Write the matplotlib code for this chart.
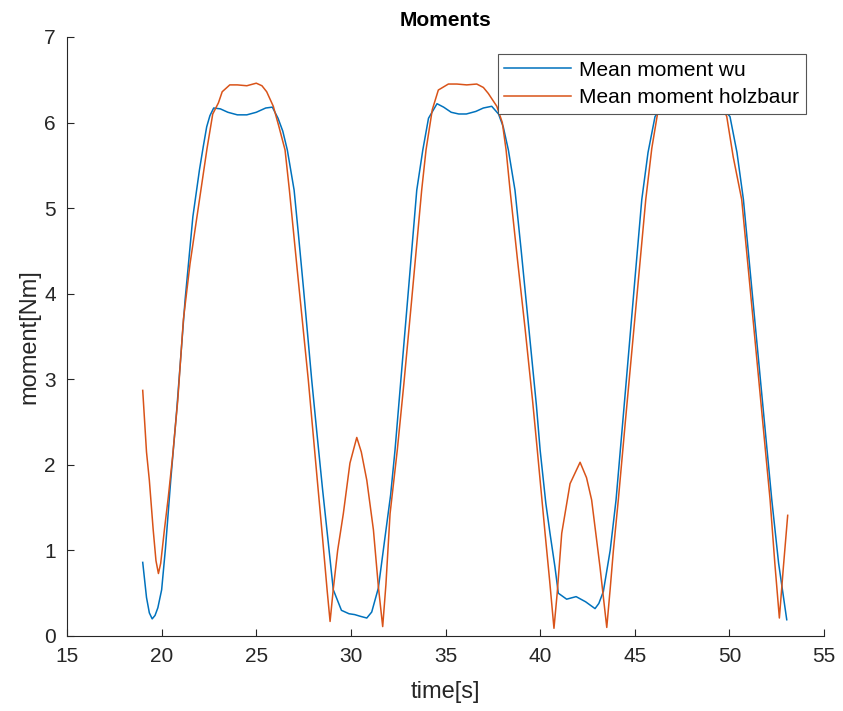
import numpy as np
import matplotlib.pyplot as plt

plt.rcParams['font.family'] = ['Liberation Sans', 'DejaVu Sans']

# mean moment, wu model
t_wu = [19.0, 19.2, 19.35, 19.5, 19.65, 19.8, 20.0, 20.2, 20.48, 20.8,
        21.24, 21.65, 22.0, 22.2, 22.38, 22.55, 22.75, 23.1, 23.5, 24.0,
        24.5, 25.0, 25.5, 25.85, 26.15, 26.4, 26.64, 27.0, 27.22, 27.5,
        27.93, 28.2, 28.5, 28.8, 29.07, 29.5, 29.9, 30.2, 30.5, 30.84,
        31.1, 31.45, 31.8, 32.1, 32.33, 32.7, 33.1, 33.48, 33.8, 34.1,
        34.55, 34.9, 35.3, 35.7, 36.1, 36.6, 37.0, 37.44, 37.8, 38.05,
        38.32, 38.67, 39.0, 39.4, 39.8, 40.0, 40.3, 40.52, 40.78, 40.96,
        41.4, 41.9, 42.4, 42.9, 43.1, 43.34, 43.7, 44.01, 44.5, 45.0,
        45.37, 45.7, 46.07, 46.5, 47.0, 47.5, 48.0, 48.5, 49.0, 49.5,
        50.03, 50.4, 50.74, 51.2, 51.7, 52.24, 52.6, 53.03]
m_wu = [0.86, 0.45, 0.27, 0.20, 0.24, 0.33, 0.54, 1.02, 1.82, 2.65,
        3.93, 4.90, 5.45, 5.72, 5.95, 6.08, 6.17, 6.16, 6.12, 6.09,
        6.09, 6.12, 6.17, 6.18, 6.05, 5.90, 5.68, 5.21, 4.71, 4.05,
        2.99, 2.38, 1.72, 1.10, 0.54, 0.30, 0.26, 0.25, 0.23, 0.21,
        0.28, 0.56, 1.15, 1.65, 2.17, 3.15, 4.20, 5.21, 5.68, 6.05,
        6.22, 6.18, 6.12, 6.10, 6.10, 6.13, 6.17, 6.19, 6.10, 5.95,
        5.68, 5.21, 4.50, 3.60, 2.70, 2.17, 1.55, 1.20, 0.81, 0.50,
        0.43, 0.46, 0.40, 0.32, 0.38, 0.52, 1.00, 1.59, 2.85, 4.15,
        5.10, 5.65, 6.07, 6.20, 6.18, 6.12, 6.10, 6.12, 6.17, 6.20,
        6.07, 5.65, 5.10, 4.02, 2.85, 1.59, 0.85, 0.19]

# mean moment, holzbaur model
t_hb = [19.0, 19.2, 19.35, 19.55, 19.7, 19.83, 19.95, 20.15, 20.35, 20.58,
        20.85, 21.15, 21.5, 21.8, 22.1, 22.4, 22.7, 23.0, 23.2, 23.6,
        24.0, 24.5, 25.0, 25.3, 25.55, 25.9, 26.2, 26.52, 26.75, 27.2,
        27.75, 28.2, 28.5, 28.75, 28.9, 29.07, 29.3, 29.6, 29.95, 30.31,
        30.55, 30.84, 31.19, 31.45, 31.68, 31.85, 32.07, 32.45, 32.8, 33.2,
        33.74, 33.97, 34.3, 34.62, 35.15, 35.6, 36.12, 36.65, 37.0, 37.26,
        37.71, 38.0, 38.2, 38.41, 38.8, 39.2, 39.6, 39.85, 40.26, 40.5,
        40.73, 40.9, 41.14, 41.58, 42.11, 42.45, 42.72, 43.16, 43.52, 43.7,
        43.87, 44.13, 44.5, 45.0, 45.58, 45.9, 46.2, 46.6, 47.0, 47.5,
        48.0, 48.5, 49.0, 49.4, 49.86, 50.2, 50.65, 51.1, 51.6, 52.15,
        52.4, 52.64, 52.85, 53.08]
m_hb = [2.87, 2.15, 1.82, 1.25, 0.88, 0.73, 0.85, 1.25, 1.62, 2.10,
        2.75, 3.70, 4.35, 4.80, 5.25, 5.70, 6.10, 6.23, 6.36, 6.44,
        6.44, 6.43, 6.46, 6.43, 6.36, 6.19, 5.95, 5.68, 5.21, 4.20,
        2.99, 1.88, 1.15, 0.52, 0.17, 0.55, 1.00, 1.43, 2.02, 2.32,
        2.15, 1.82, 1.24, 0.58, 0.11, 0.60, 1.43, 2.17, 2.95, 3.90,
        5.21, 5.68, 6.15, 6.38, 6.45, 6.45, 6.44, 6.45, 6.41, 6.34,
        6.19, 6.00, 5.68, 5.21, 4.40, 3.60, 2.75, 2.17, 1.20, 0.65,
        0.09, 0.50, 1.20, 1.78, 2.03, 1.85, 1.59, 0.81, 0.10, 0.55,
        1.00, 1.59, 2.50, 3.70, 5.10, 5.70, 6.10, 6.35, 6.44, 6.45,
        6.43, 6.45, 6.42, 6.30, 6.07, 5.60, 5.10, 4.05, 2.88, 1.59,
        0.85, 0.21, 0.80, 1.41]

fig = plt.figure(figsize=(8.43, 7.11), dpi=100)
ax = fig.add_axes([0.0795, 0.1055, 0.898, 0.8425])

ax.plot(t_wu, m_wu, color='#0072BD', lw=1.1, label='Mean moment wu')
ax.plot(t_hb, m_hb, color='#D95319', lw=1.1, label='Mean moment holzbaur')

ax.set_xlim(15, 55)
ax.set_ylim(0, 7)
ax.set_xticks(np.arange(15, 56, 5))
ax.set_yticks(np.arange(0, 8, 1))

for side in ['top', 'right']:
    ax.spines[side].set_visible(False)
for side in ['left', 'bottom']:
    ax.spines[side].set_color('#262626')
    ax.spines[side].set_linewidth(0.8)
ax.tick_params(direction='in', length=5, width=0.8, colors='#262626',
               labelsize=15, pad=8)

ax.set_xlabel('time[s]', fontsize=17, color='#262626', labelpad=11)
ax.set_ylabel('moment[Nm]', fontsize=17, color='#262626', labelpad=3)
ax.set_title('Moments', fontsize=15, fontweight='bold', pad=8)

leg = ax.legend(loc='upper right', bbox_to_anchor=(0.9762, 0.9716),
                fontsize=15, fancybox=False, framealpha=1,
                borderpad=0.32, handlelength=3.2, handletextpad=0.4,
                labelspacing=0.4, borderaxespad=0)
leg.get_frame().set_edgecolor('#555555')
leg.get_frame().set_linewidth(0.8)

plt.savefig('out.png', dpi=100)
